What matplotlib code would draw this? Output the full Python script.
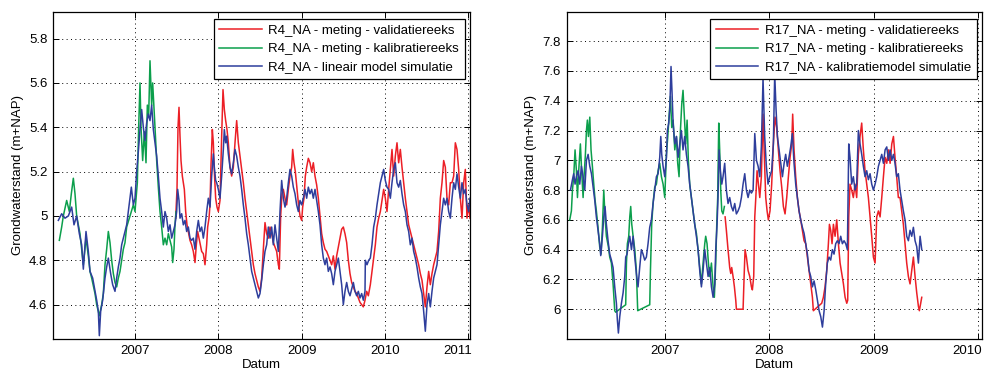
import matplotlib
matplotlib.use('Agg')
import matplotlib.pyplot as plt
import matplotlib.transforms as mtransforms
from matplotlib.ticker import FuncFormatter

plt.rcParams['font.family'] = ['Liberation Sans', 'DejaVu Sans']
plt.rcParams['font.size'] = 9.5

# R4_NA: (decimal year, level m+NAP)
r4_sim = [(2006.080, 4.98), (2006.120, 5.01), (2006.160, 4.99), (2006.200, 5.00), (2006.240, 5.04), (2006.268, 4.96),
          (2006.300, 5.00), (2006.332, 4.92), (2006.360, 4.87), (2006.380, 4.76), (2006.412, 4.93), (2006.440, 4.84),
          (2006.460, 4.75), (2006.492, 4.72), (2006.520, 4.66), (2006.540, 4.62), (2006.560, 4.57), (2006.572, 4.46),
          (2006.588, 4.57), (2006.612, 4.62), (2006.640, 4.72), (2006.660, 4.77), (2006.680, 4.81), (2006.708, 4.74),
          (2006.732, 4.69), (2006.760, 4.66), (2006.780, 4.72), (2006.800, 4.77), (2006.820, 4.81), (2006.840, 4.87),
          (2006.860, 4.90), (2006.880, 4.93), (2006.900, 4.96), (2006.920, 5.02), (2006.940, 5.08), (2006.956, 5.13),
          (2006.980, 5.05), (2007.000, 5.08), (2007.020, 5.20), (2007.040, 5.29), (2007.060, 5.39), (2007.080, 5.48),
          (2007.100, 5.40), (2007.120, 5.34), (2007.140, 5.42), (2007.160, 5.46), (2007.180, 5.43), (2007.200, 5.50),
          (2007.220, 5.39), (2007.240, 5.33), (2007.260, 5.27), (2007.280, 5.18), (2007.300, 5.08), (2007.320, 5.02),
          (2007.340, 4.95), (2007.360, 5.02), (2007.380, 4.99), (2007.400, 4.93), (2007.420, 4.96), (2007.440, 4.90),
          (2007.460, 4.93), (2007.480, 4.96), (2007.500, 5.02), (2007.512, 5.12), (2007.528, 5.07), (2007.540, 4.99),
          (2007.560, 5.01), (2007.580, 4.96), (2007.600, 4.98), (2007.620, 4.93), (2007.640, 4.95), (2007.660, 4.90),
          (2007.680, 4.89), (2007.700, 4.90), (2007.720, 4.85), (2007.740, 4.93), (2007.760, 4.98), (2007.780, 4.93),
          (2007.800, 4.95), (2007.820, 4.90), (2007.840, 4.95), (2007.860, 5.02), (2007.880, 5.08), (2007.900, 5.04),
          (2007.920, 5.18), (2007.940, 5.28), (2007.952, 5.22), (2007.968, 5.16), (2007.980, 5.15), (2008.000, 5.12),
          (2008.020, 5.08), (2008.040, 5.18), (2008.060, 5.30), (2008.072, 5.39), (2008.088, 5.33), (2008.100, 5.36),
          (2008.120, 5.28), (2008.140, 5.22), (2008.160, 5.19), (2008.180, 5.24), (2008.200, 5.30), (2008.220, 5.27),
          (2008.240, 5.22), (2008.260, 5.18), (2008.280, 5.12), (2008.300, 5.05), (2008.320, 4.99), (2008.340, 4.92),
          (2008.360, 4.87), (2008.380, 4.81), (2008.400, 4.75), (2008.420, 4.72), (2008.440, 4.69), (2008.460, 4.66),
          (2008.480, 4.63), (2008.500, 4.65), (2008.520, 4.71), (2008.540, 4.78), (2008.560, 4.84), (2008.580, 4.87),
          (2008.600, 4.95), (2008.620, 4.90), (2008.640, 4.95), (2008.660, 4.87), (2008.680, 4.96), (2008.700, 4.90),
          (2008.720, 4.84), (2008.740, 5.02), (2008.760, 5.16), (2008.780, 5.08), (2008.800, 5.04), (2008.820, 5.08),
          (2008.840, 5.15), (2008.860, 5.21), (2008.880, 5.18), (2008.900, 5.13), (2008.920, 5.10), (2008.940, 5.05),
          (2008.960, 5.02), (2008.980, 5.07), (2009.000, 5.05), (2009.020, 5.08), (2009.040, 5.12), (2009.060, 5.08),
          (2009.080, 5.13), (2009.100, 5.10), (2009.120, 5.12), (2009.140, 5.08), (2009.160, 5.12), (2009.180, 5.07),
          (2009.200, 5.02), (2009.220, 4.96), (2009.240, 4.87), (2009.260, 4.81), (2009.280, 4.78), (2009.300, 4.81),
          (2009.320, 4.75), (2009.340, 4.77), (2009.360, 4.74), (2009.380, 4.69), (2009.400, 4.75), (2009.420, 4.78),
          (2009.440, 4.81), (2009.460, 4.75), (2009.480, 4.69), (2009.500, 4.60), (2009.520, 4.66), (2009.540, 4.70),
          (2009.560, 4.66), (2009.580, 4.64), (2009.600, 4.67), (2009.620, 4.70), (2009.640, 4.66), (2009.660, 4.64),
          (2009.680, 4.66), (2009.700, 4.63), (2009.720, 4.65), (2009.740, 4.62), (2009.760, 4.66), (2009.764, 4.80),
          (2009.784, 4.78), (2009.804, 4.80), (2009.824, 4.81), (2009.844, 4.87), (2009.864, 4.95), (2009.884, 4.99),
          (2009.904, 5.05), (2009.924, 5.10), (2009.944, 5.15), (2009.964, 5.18), (2009.984, 5.21), (2010.004, 5.16),
          (2010.024, 5.13), (2010.044, 5.12), (2010.064, 5.08), (2010.084, 5.15), (2010.104, 5.21), (2010.124, 5.24),
          (2010.144, 5.15), (2010.164, 5.13), (2010.184, 5.16), (2010.204, 5.10), (2010.224, 5.05), (2010.244, 5.02),
          (2010.264, 4.96), (2010.284, 4.93), (2010.304, 4.87), (2010.324, 4.90), (2010.344, 4.84), (2010.364, 4.81),
          (2010.384, 4.77), (2010.404, 4.72), (2010.424, 4.68), (2010.444, 4.65), (2010.464, 4.57), (2010.484, 4.48),
          (2010.504, 4.60), (2010.524, 4.65), (2010.544, 4.59), (2010.564, 4.66), (2010.584, 4.72), (2010.604, 4.75),
          (2010.624, 4.78), (2010.644, 4.87), (2010.664, 4.96), (2010.684, 5.02), (2010.704, 5.08), (2010.724, 5.05),
          (2010.744, 5.08), (2010.764, 5.02), (2010.784, 4.99), (2010.804, 5.08), (2010.824, 5.15), (2010.844, 5.12),
          (2010.864, 5.19), (2010.884, 5.13), (2010.904, 5.08), (2010.924, 5.15), (2010.944, 5.10), (2010.964, 5.12),
          (2010.984, 5.05), (2011.004, 5.02), (2011.020, 5.08)]

r4_cal = [(2006.092, 4.89), (2006.120, 4.95), (2006.140, 5.00), (2006.180, 5.07), (2006.212, 5.02), (2006.236, 5.10),
          (2006.260, 5.17), (2006.280, 5.10), (2006.300, 5.00), (2006.340, 4.92), (2006.360, 4.85), (2006.380, 4.78),
          (2006.412, 4.90), (2006.440, 4.82), (2006.460, 4.75), (2006.480, 4.72), (2006.520, 4.65), (2006.540, 4.60),
          (2006.572, 4.55), (2006.600, 4.60), (2006.620, 4.65), (2006.640, 4.78), (2006.660, 4.85), (2006.680, 4.93),
          (2006.700, 4.88), (2006.720, 4.80), (2006.740, 4.74), (2006.760, 4.70), (2006.780, 4.68), (2006.800, 4.72),
          (2006.820, 4.75), (2006.840, 4.80), (2006.860, 4.85), (2006.880, 4.88), (2006.900, 4.95), (2006.940, 5.00),
          (2006.980, 5.05), (2007.000, 5.02), (2007.028, 5.15), (2007.044, 5.40), (2007.060, 5.60), (2007.072, 5.40),
          (2007.092, 5.25), (2007.112, 5.38), (2007.132, 5.24), (2007.148, 5.50), (2007.164, 5.45), (2007.180, 5.70),
          (2007.200, 5.50), (2007.212, 5.60), (2007.240, 5.40), (2007.260, 5.25), (2007.280, 5.13), (2007.300, 5.02),
          (2007.320, 4.95), (2007.340, 4.87), (2007.360, 4.90), (2007.380, 4.87), (2007.400, 4.92), (2007.420, 4.89),
          (2007.440, 4.86), (2007.452, 4.79), (2007.468, 4.85), (2007.480, 4.96), (2007.492, 5.02)]

r4_val = [(2007.488, 4.99), (2007.504, 5.12), (2007.516, 5.40), (2007.528, 5.49), (2007.540, 5.36), (2007.552, 5.25),
          (2007.568, 5.18), (2007.592, 5.12), (2007.608, 5.02), (2007.624, 4.96), (2007.640, 4.93), (2007.660, 4.89),
          (2007.680, 4.87), (2007.700, 4.84), (2007.720, 4.79), (2007.736, 4.87), (2007.752, 4.93), (2007.768, 4.90),
          (2007.784, 4.87), (2007.800, 4.84), (2007.820, 4.83), (2007.840, 4.78), (2007.860, 4.87), (2007.872, 4.95),
          (2007.888, 4.99), (2007.900, 5.05), (2007.912, 5.23), (2007.928, 5.39), (2007.940, 5.33), (2007.952, 5.20),
          (2007.968, 5.08), (2007.984, 5.04), (2008.000, 5.02), (2008.020, 5.07), (2008.040, 5.36), (2008.056, 5.57),
          (2008.072, 5.48), (2008.088, 5.43), (2008.104, 5.39), (2008.120, 5.33), (2008.140, 5.22), (2008.160, 5.18),
          (2008.180, 5.22), (2008.200, 5.33), (2008.220, 5.43), (2008.240, 5.33), (2008.260, 5.27), (2008.280, 5.21),
          (2008.300, 5.15), (2008.320, 5.08), (2008.340, 5.02), (2008.360, 4.96), (2008.380, 4.90), (2008.400, 4.84),
          (2008.420, 4.78), (2008.440, 4.74), (2008.460, 4.71), (2008.480, 4.68), (2008.500, 4.66), (2008.520, 4.72),
          (2008.540, 4.85), (2008.560, 4.97), (2008.580, 4.92), (2008.600, 4.90), (2008.620, 4.95), (2008.640, 4.92),
          (2008.660, 4.88), (2008.680, 4.86), (2008.700, 4.84), (2008.720, 4.78), (2008.732, 4.76), (2008.748, 5.00),
          (2008.764, 5.10), (2008.780, 5.12), (2008.800, 5.08), (2008.820, 5.05), (2008.840, 5.12), (2008.860, 5.18),
          (2008.880, 5.22), (2008.892, 5.30), (2008.908, 5.24), (2008.924, 5.20), (2008.940, 5.14), (2008.960, 5.06),
          (2008.980, 5.00), (2009.000, 4.98), (2009.012, 5.04), (2009.028, 5.08), (2009.044, 5.18), (2009.060, 5.22),
          (2009.080, 5.26), (2009.100, 5.24), (2009.120, 5.20), (2009.140, 5.24), (2009.160, 5.18), (2009.180, 5.14),
          (2009.200, 5.08), (2009.220, 5.00), (2009.240, 4.92), (2009.260, 4.88), (2009.280, 4.85), (2009.300, 4.84),
          (2009.320, 4.82), (2009.340, 4.80), (2009.360, 4.78), (2009.380, 4.82), (2009.400, 4.76), (2009.420, 4.82),
          (2009.440, 4.86), (2009.460, 4.90), (2009.480, 4.94), (2009.500, 4.95), (2009.520, 4.92), (2009.540, 4.88),
          (2009.560, 4.80), (2009.580, 4.74), (2009.600, 4.70), (2009.620, 4.68), (2009.640, 4.66), (2009.660, 4.65),
          (2009.680, 4.63), (2009.700, 4.61), (2009.720, 4.60), (2009.740, 4.59), (2009.760, 4.62), (2009.780, 4.66),
          (2009.800, 4.64), (2009.824, 4.69), (2009.844, 4.75), (2009.864, 4.81), (2009.884, 4.87), (2009.904, 4.95),
          (2009.924, 4.99), (2009.944, 5.02), (2009.964, 5.07), (2009.984, 5.12), (2010.004, 5.08), (2010.024, 5.02),
          (2010.044, 5.12), (2010.064, 5.21), (2010.084, 5.30), (2010.104, 5.18), (2010.124, 5.27), (2010.144, 5.33),
          (2010.164, 5.24), (2010.184, 5.30), (2010.204, 5.22), (2010.224, 5.15), (2010.244, 5.08), (2010.264, 5.02),
          (2010.284, 4.96), (2010.304, 4.93), (2010.324, 4.90), (2010.344, 4.87), (2010.364, 4.84), (2010.384, 4.81),
          (2010.404, 4.78), (2010.424, 4.74), (2010.444, 4.71), (2010.464, 4.65), (2010.484, 4.59), (2010.504, 4.68),
          (2010.524, 4.75), (2010.544, 4.69), (2010.564, 4.74), (2010.584, 4.78), (2010.604, 4.81), (2010.624, 4.84),
          (2010.644, 4.93), (2010.664, 5.08), (2010.684, 5.15), (2010.704, 5.25), (2010.724, 5.22), (2010.744, 5.08),
          (2010.764, 5.05), (2010.784, 5.15), (2010.804, 5.15), (2010.824, 5.18), (2010.844, 5.33), (2010.864, 5.30),
          (2010.884, 5.21), (2010.904, 5.08), (2010.924, 4.99), (2010.944, 5.15), (2010.964, 5.21), (2010.984, 4.99),
          (2011.004, 5.05), (2011.020, 4.99)]

# R17_NA
r17_sim = [(2006.094, 6.80), (2006.113, 6.87), (2006.125, 6.91), (2006.138, 6.84), (2006.151, 6.89), (2006.167, 6.93),
           (2006.183, 6.84), (2006.199, 6.96), (2006.215, 6.89), (2006.231, 6.80), (2006.247, 7.00), (2006.263, 7.04),
           (2006.279, 6.96), (2006.295, 6.91), (2006.311, 6.82), (2006.327, 6.73), (2006.342, 6.62), (2006.358, 6.53),
           (2006.374, 6.44), (2006.384, 6.36), (2006.400, 6.49), (2006.413, 6.62), (2006.425, 6.69), (2006.438, 6.57),
           (2006.454, 6.46), (2006.470, 6.37), (2006.486, 6.33), (2006.502, 6.28), (2006.518, 6.15), (2006.534, 6.04),
           (2006.543, 5.93), (2006.553, 5.84), (2006.566, 5.95), (2006.582, 6.04), (2006.598, 6.11), (2006.614, 6.22),
           (2006.623, 6.35), (2006.636, 6.37), (2006.649, 6.44), (2006.662, 6.49), (2006.678, 6.40), (2006.694, 6.49),
           (2006.710, 6.35), (2006.725, 6.24), (2006.741, 6.15), (2006.757, 6.28), (2006.773, 6.40), (2006.789, 6.37),
           (2006.805, 6.33), (2006.821, 6.35), (2006.837, 6.44), (2006.853, 6.55), (2006.869, 6.60), (2006.885, 6.71),
           (2006.901, 6.80), (2006.917, 6.89), (2006.933, 6.91), (2006.949, 7.02), (2006.959, 7.16), (2006.968, 7.04),
           (2006.981, 6.96), (2006.997, 6.89), (2007.013, 7.02), (2007.022, 7.20), (2007.035, 7.25), (2007.045, 7.34),
           (2007.057, 7.63), (2007.067, 7.45), (2007.077, 7.25), (2007.093, 7.11), (2007.109, 7.16), (2007.125, 7.02),
           (2007.140, 7.11), (2007.156, 7.20), (2007.172, 7.07), (2007.188, 7.16), (2007.204, 7.04), (2007.220, 6.96),
           (2007.236, 6.84), (2007.252, 6.75), (2007.268, 6.66), (2007.284, 6.57), (2007.300, 6.49), (2007.316, 6.40),
           (2007.332, 6.26), (2007.348, 6.15), (2007.364, 6.26), (2007.380, 6.40), (2007.396, 6.31), (2007.412, 6.22),
           (2007.428, 6.28), (2007.444, 6.15), (2007.460, 6.08), (2007.476, 6.17), (2007.485, 6.40), (2007.498, 6.57),
           (2007.507, 6.75), (2007.517, 7.07), (2007.530, 6.93), (2007.543, 6.84), (2007.555, 6.89), (2007.571, 6.98),
           (2007.587, 6.80), (2007.603, 6.71), (2007.619, 6.75), (2007.635, 6.69), (2007.651, 6.66), (2007.667, 6.71),
           (2007.683, 6.64), (2007.699, 6.66), (2007.715, 6.69), (2007.731, 6.75), (2007.747, 6.84), (2007.763, 6.91),
           (2007.779, 6.80), (2007.795, 6.75), (2007.811, 6.80), (2007.827, 6.78), (2007.843, 6.80), (2007.859, 7.18),
           (2007.875, 7.00), (2007.891, 6.96), (2007.907, 6.89), (2007.922, 7.09), (2007.938, 7.55), (2007.954, 7.16),
           (2007.970, 6.96), (2007.986, 6.84), (2008.002, 6.89), (2008.021, 6.93), (2008.037, 7.11), (2008.050, 7.58),
           (2008.063, 7.34), (2008.076, 7.16), (2008.092, 7.07), (2008.108, 6.98), (2008.124, 6.89), (2008.140, 6.98),
           (2008.155, 7.04), (2008.171, 6.96), (2008.187, 7.02), (2008.203, 7.09), (2008.219, 7.18), (2008.235, 6.98),
           (2008.251, 6.84), (2008.267, 6.75), (2008.283, 6.66), (2008.299, 6.60), (2008.315, 6.55), (2008.331, 6.51),
           (2008.347, 6.44), (2008.363, 6.37), (2008.379, 6.26), (2008.395, 6.22), (2008.411, 6.15), (2008.427, 6.19),
           (2008.443, 6.13), (2008.459, 6.06), (2008.475, 5.99), (2008.491, 5.95), (2008.507, 5.88), (2008.523, 5.99),
           (2008.538, 6.17), (2008.554, 6.31), (2008.570, 6.35), (2008.586, 6.33), (2008.602, 6.40), (2008.618, 6.37),
           (2008.634, 6.44), (2008.650, 6.46), (2008.666, 6.44), (2008.682, 6.49), (2008.698, 6.44), (2008.714, 6.46),
           (2008.730, 6.44), (2008.746, 6.40), (2008.759, 7.11), (2008.771, 7.02), (2008.787, 6.84), (2008.803, 6.89),
           (2008.819, 6.80), (2008.835, 6.84), (2008.851, 7.20), (2008.867, 7.11), (2008.883, 7.04), (2008.899, 6.96),
           (2008.915, 6.89), (2008.931, 6.93), (2008.947, 6.87), (2008.963, 6.91), (2008.979, 6.84), (2008.995, 6.80),
           (2009.011, 6.84), (2009.027, 6.89), (2009.043, 6.96), (2009.059, 7.00), (2009.075, 7.04), (2009.091, 6.98),
           (2009.107, 7.07), (2009.123, 7.09), (2009.139, 7.00), (2009.155, 7.07), (2009.171, 7.00), (2009.187, 7.04),
           (2009.202, 6.98), (2009.218, 6.89), (2009.234, 6.91), (2009.250, 6.80), (2009.266, 6.73), (2009.282, 6.66),
           (2009.298, 6.60), (2009.314, 6.49), (2009.330, 6.46), (2009.346, 6.53), (2009.362, 6.49), (2009.378, 6.55),
           (2009.394, 6.46), (2009.410, 6.42), (2009.426, 6.31), (2009.442, 6.49), (2009.458, 6.40)]

r17_cal = [(2006.087, 6.60), (2006.103, 6.66), (2006.113, 6.80), (2006.125, 6.89), (2006.138, 7.07), (2006.151, 6.93),
           (2006.161, 6.75), (2006.173, 6.93), (2006.189, 7.11), (2006.199, 6.96), (2006.215, 6.75), (2006.224, 6.89),
           (2006.237, 7.04), (2006.247, 7.20), (2006.256, 7.27), (2006.266, 7.16), (2006.279, 7.29), (2006.291, 7.07),
           (2006.304, 6.96), (2006.317, 6.84), (2006.330, 6.73), (2006.342, 6.66), (2006.358, 6.55), (2006.374, 6.42),
           (2006.387, 6.37), (2006.400, 6.55), (2006.413, 6.80), (2006.425, 6.62), (2006.438, 6.49), (2006.457, 6.42),
           (2006.470, 6.35), (2006.486, 6.31), (2006.502, 6.17), (2006.518, 5.99), (2006.527, 5.98), (2006.623, 6.03),
           (2006.630, 6.31), (2006.639, 6.44), (2006.652, 6.49), (2006.662, 6.62), (2006.671, 6.69), (2006.681, 6.57),
           (2006.694, 6.49), (2006.710, 6.40), (2006.725, 6.26), (2006.738, 5.99), (2006.853, 6.03), (2006.860, 6.26),
           (2006.872, 6.57), (2006.885, 6.71), (2006.901, 6.82), (2006.917, 6.84), (2006.933, 6.93), (2006.949, 6.98),
           (2006.965, 6.89), (2006.981, 6.84), (2006.997, 6.75), (2007.013, 7.04), (2007.026, 7.16), (2007.038, 7.29),
           (2007.051, 7.43), (2007.064, 7.22), (2007.077, 7.27), (2007.093, 7.07), (2007.109, 7.16), (2007.121, 6.98),
           (2007.134, 6.89), (2007.147, 7.20), (2007.160, 7.38), (2007.172, 7.47), (2007.185, 7.29), (2007.198, 7.11),
           (2007.211, 7.27), (2007.223, 7.00), (2007.236, 6.84), (2007.252, 6.75), (2007.268, 6.66), (2007.284, 6.57),
           (2007.300, 6.51), (2007.316, 6.40), (2007.332, 6.28), (2007.348, 6.17), (2007.364, 6.31), (2007.380, 6.44),
           (2007.389, 6.49), (2007.402, 6.44), (2007.415, 6.31), (2007.428, 6.22), (2007.444, 6.31), (2007.460, 6.15),
           (2007.472, 6.08), (2007.485, 6.31), (2007.495, 6.57), (2007.504, 6.75), (2007.514, 7.25), (2007.523, 7.07),
           (2007.533, 6.80), (2007.543, 6.66), (2007.555, 6.64), (2007.568, 6.69)]

r17_val = [(2007.575, 6.62), (2007.587, 6.53), (2007.603, 6.40), (2007.619, 6.28), (2007.629, 6.24), (2007.638, 6.28),
           (2007.651, 6.22), (2007.664, 6.15), (2007.677, 6.06), (2007.683, 6.00), (2007.747, 6.00), (2007.757, 6.22),
           (2007.766, 6.40), (2007.779, 6.35), (2007.795, 6.26), (2007.811, 6.22), (2007.827, 6.15), (2007.836, 6.13),
           (2007.849, 6.22), (2007.859, 6.62), (2007.869, 6.75), (2007.881, 6.93), (2007.894, 6.84), (2007.907, 6.75),
           (2007.922, 6.89), (2007.938, 7.31), (2007.951, 7.02), (2007.964, 6.75), (2007.977, 6.66), (2007.989, 6.60),
           (2008.005, 6.66), (2008.021, 6.84), (2008.037, 7.11), (2008.053, 7.29), (2008.069, 7.22), (2008.085, 7.07),
           (2008.101, 6.93), (2008.117, 6.82), (2008.133, 6.69), (2008.149, 6.64), (2008.165, 6.75), (2008.181, 6.89),
           (2008.197, 7.02), (2008.213, 7.11), (2008.222, 7.31), (2008.235, 7.07), (2008.251, 6.89), (2008.267, 6.75),
           (2008.283, 6.66), (2008.299, 6.60), (2008.315, 6.53), (2008.331, 6.46), (2008.347, 6.44), (2008.363, 6.35),
           (2008.379, 6.26), (2008.395, 6.17), (2008.411, 6.08), (2008.420, 5.99), (2008.500, 6.04), (2008.516, 6.08),
           (2008.532, 6.15), (2008.548, 6.26), (2008.564, 6.44), (2008.574, 6.57), (2008.586, 6.53), (2008.599, 6.44),
           (2008.612, 6.57), (2008.628, 6.49), (2008.644, 6.60), (2008.660, 6.44), (2008.676, 6.31), (2008.692, 6.24),
           (2008.708, 6.17), (2008.724, 6.08), (2008.740, 6.04), (2008.749, 6.06), (2008.759, 6.62), (2008.771, 6.84),
           (2008.787, 6.80), (2008.803, 6.75), (2008.819, 6.84), (2008.835, 6.75), (2008.851, 7.04), (2008.867, 7.16),
           (2008.883, 7.25), (2008.899, 7.07), (2008.915, 6.93), (2008.931, 6.84), (2008.947, 6.75), (2008.963, 6.62),
           (2008.979, 6.49), (2008.995, 6.35), (2009.011, 6.31), (2009.027, 6.62), (2009.043, 6.66), (2009.059, 6.62),
           (2009.075, 6.75), (2009.091, 6.89), (2009.107, 7.02), (2009.123, 6.98), (2009.139, 7.07), (2009.155, 6.98),
           (2009.171, 7.11), (2009.187, 7.16), (2009.202, 7.02), (2009.218, 6.89), (2009.234, 6.75), (2009.250, 6.75),
           (2009.266, 6.66), (2009.282, 6.57), (2009.298, 6.44), (2009.314, 6.31), (2009.330, 6.22), (2009.346, 6.17),
           (2009.362, 6.26), (2009.378, 6.35), (2009.394, 6.22), (2009.410, 6.11), (2009.426, 6.02), (2009.435, 5.99),
           (2009.448, 6.04), (2009.458, 6.08)]

r4_labels = ['R4_NA - meting - validatiereeks', 'R4_NA - meting - kalibratiereeks',
             'R4_NA - lineair model simulatie']
r17_labels = ['R17_NA - meting - validatiereeks', 'R17_NA - meting - kalibratiereeks',
              'R17_NA - kalibratiemodel simulatie']

red = '#ec1f26'
green = '#0c9f4c'
blue = '#2e3e9c'

fig = plt.figure(figsize=(9.91, 3.74), dpi=100)


def panel(rect, val, cal, sim, labels, xlim, ylim, yticks, xticks):
    ax = fig.add_axes(rect)
    for data, col, lab in ((val, red, labels[0]), (cal, green, labels[1]), (sim, blue, labels[2])):
        t, h = zip(*data)
        ax.plot(t, h, color=col, lw=1.1, label=lab)
    ax.set_xlim(xlim)
    ax.set_ylim(ylim)
    ax.set_xticks(xticks)
    ax.set_yticks(yticks)
    ax.xaxis.set_major_formatter(FuncFormatter(lambda v, p: '%d' % round(v)))
    ax.yaxis.set_major_formatter(FuncFormatter(lambda v, p: '%g' % round(v, 2)))
    ax.set_axisbelow(True)
    ax.grid(True, color='k', linestyle=(0, (1, 3.5)), linewidth=0.7)
    ax.tick_params(direction='in', top=True, right=True, length=4, width=0.7, pad=4)
    for s in ax.spines.values():
        s.set_linewidth(0.9)
    # last year label sits against the right edge, like in the original
    last = ax.get_xticklabels()[-1]
    last.set_horizontalalignment('right')
    last.set_transform(last.get_transform() + mtransforms.ScaledTranslation(4 / 100, 0, fig.dpi_scale_trans))
    ax.set_xlabel('Datum', labelpad=2)
    ax.set_ylabel('Grondwaterstand (m+NAP)', labelpad=4)
    leg = ax.legend(loc='upper right', bbox_to_anchor=(0.988, 0.979), borderaxespad=0,
                    fancybox=False, framealpha=1, edgecolor='k', handlelength=3.2,
                    borderpad=0.45, labelspacing=0.45, handletextpad=0.5)
    leg.get_frame().set_linewidth(0.9)
    return ax


panel([53 / 991, 35 / 374, 417 / 991, 327 / 374], r4_val, r4_cal, r4_sim, r4_labels,
      (2006.016, 2011.02), (4.445, 5.92), [4.6, 4.8, 5.0, 5.2, 5.4, 5.6, 5.8],
      [2007, 2008, 2009, 2010, 2011])
panel([566.7 / 991, 35 / 374, 415.3 / 991, 327 / 374], r17_val, r17_cal, r17_sim, r17_labels,
      (2006.058, 2010.035), (5.8, 7.996), [6.0, 6.2, 6.4, 6.6, 6.8, 7.0, 7.2, 7.4, 7.6, 7.8],
      [2007, 2008, 2009, 2010])

fig.savefig('out.png', dpi=100)
